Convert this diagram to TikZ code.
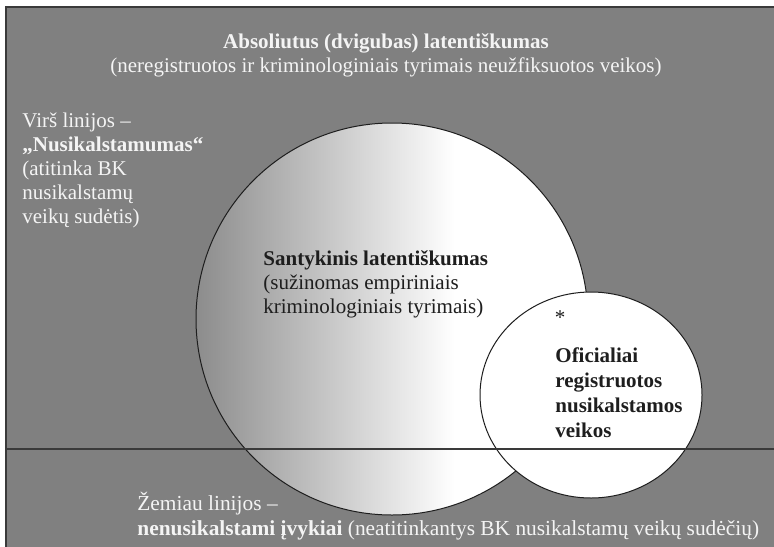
\documentclass[tikz,border=0pt]{standalone}
\usepackage{fontspec}
\setmainfont{Liberation Serif}
\usetikzlibrary{shapes.geometric}
\definecolor{cback}{HTML}{808080}
\definecolor{cframe}{HTML}{3A3A3A}
\definecolor{cink}{HTML}{1E1E1E}
\definecolor{clight}{HTML}{F4F4F4}
\definecolor{cshade}{HTML}{8C8C8C}
\pgfdeclarehorizontalshading{latshade}{100bp}{color(0bp)=(cshade); color(25bp)=(cshade); color(58bp)=(white); color(100bp)=(white)}
\tikzset{
  txt/.style={font=\fontsize{10.5}{12}\selectfont, inner sep=0pt, align=left},
  txtbf/.style={font=\fontsize{10.5}{12.6}\selectfont\bfseries, inner sep=0pt, align=left},
  light/.style={text=clight},
  dark/.style={text=cink},
  frame/.style={draw=cframe, line width=1pt},
  divider/.style={draw=cframe, line width=0.8pt},
  bigset/.style={circle, draw=cink, line width=0.5pt, inner sep=0pt, minimum size=196pt, shading=latshade},
  smallset/.style={ellipse, draw=cink, line width=0.5pt, inner sep=0pt, fill=white, minimum width=111pt, minimum height=103pt},
}

\begin{document}
\begin{tikzpicture}[x=0.5pt, y=-0.5pt]
  \useasboundingbox (0,0) rectangle (774,546);
  % backdrop
  \fill[cback] (6,7) rectangle (778,550);
  \draw[frame] (6,550) -- (6,7) -- (778,7);
  % the two sets
  \node[bigset] (rel) at (392,319) {};
  \node[smallset] (off) at (591,395) {};
  % dividing line
  \coordinate (divW) at (6,449);
  \coordinate (divE) at (778,449);
  \draw[divider] (divW) -- (divE);
  % labels
  \node[txt, light, align=center, anchor=north] (absol) at (386,33) {\textbf{Absoliutus (dvigubas) latentiškumas}\\(neregistruotos ir kriminologiniais tyrimais neužfiksuotos veikos)};
  \node[txt, light, anchor=north west] (above) at (22,112) {Virš linijos –\\\textbf{„Nusikalstamumas“}\\(atitinka BK\\nusikalstamų\\veikų sudėtis)};
  \node[txt, dark, anchor=north west] (relt) at (263,250) {\textbf{Santykinis latentiškumas}\\(sužinomas empiriniais\\kriminologiniais tyrimais)};
  \node[txt, dark] (star) at (560,318) {*};
  \node[txtbf, dark, anchor=north west] (offt) at (555,347) {Oficialiai\\registruotos\\nusikalstamos\\veikos};
  \node[txt, light, anchor=north west, font=\fontsize{10.7}{12.2}\selectfont] (below) at (137,492) {Žemiau linijos –\\\textbf{nenusikalstami įvykiai} (neatitinkantys BK nusikalstamų veikų sudėčių)};
\end{tikzpicture}
\end{document}
